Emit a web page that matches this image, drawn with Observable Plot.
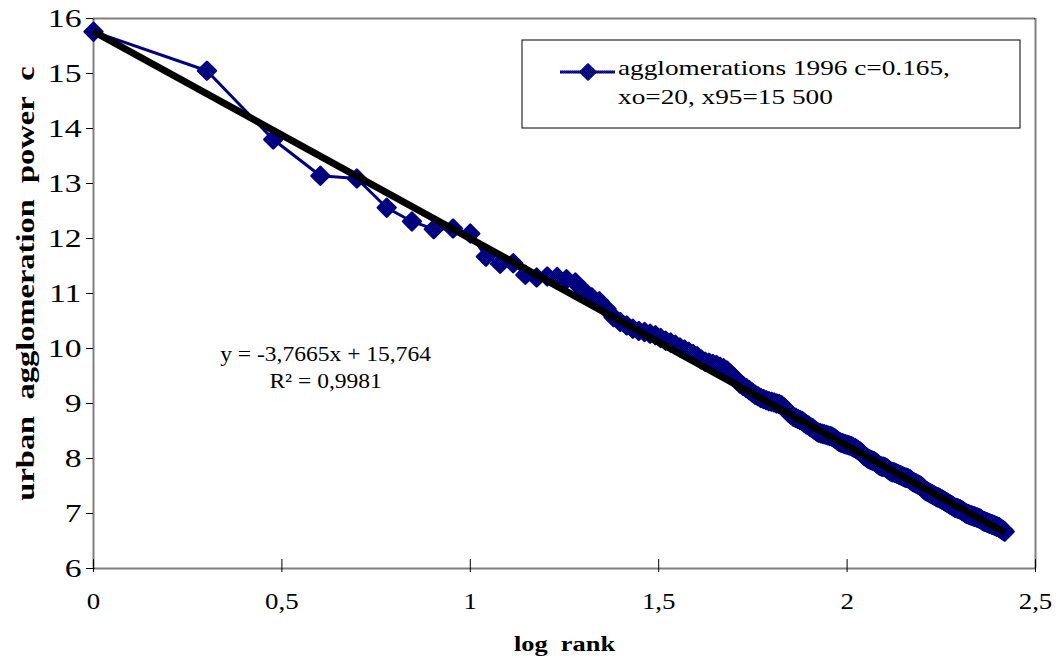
<!DOCTYPE html>
<html><head><meta charset="utf-8">
<script src="https://cdn.jsdelivr.net/npm/d3@7"></script>
<script src="https://cdn.jsdelivr.net/npm/@observablehq/plot@0.6"></script>
<style>html,body{margin:0;padding:0;background:#fff} svg{display:block}</style>
</head><body><div id="chart"></div>
<script>
// urban agglomeration power c, by rank (rank 1 .. 262); x axis = log10(rank)
const cValues = [
15.76, 15.05, 13.80, 13.14, 13.09, 12.56, 12.31, 12.17, 12.18, 12.09,
11.67, 11.54, 11.55, 11.34, 11.29, 11.31, 11.30, 11.26, 11.20, 11.05,
10.93, 10.86, 10.72, 10.57, 10.48, 10.42, 10.36, 10.32, 10.30, 10.27,
10.24, 10.19, 10.14, 10.11, 10.07, 10.02, 9.98, 9.94, 9.90, 9.86,
9.80, 9.76, 9.74, 9.72, 9.70, 9.67, 9.64, 9.60, 9.54, 9.48,
9.42, 9.36, 9.32, 9.28, 9.24, 9.20, 9.16, 9.13, 9.10, 9.08,
9.06, 9.04, 9.03, 9.02, 9.00, 8.99, 8.97, 8.93, 8.88, 8.83,
8.79, 8.76, 8.74, 8.72, 8.70, 8.68, 8.65, 8.62, 8.60, 8.57,
8.55, 8.52, 8.49, 8.47, 8.46, 8.45, 8.44, 8.43, 8.42, 8.41,
8.40, 8.38, 8.36, 8.33, 8.31, 8.29, 8.28, 8.27, 8.26, 8.25,
8.24, 8.23, 8.22, 8.20, 8.19, 8.17, 8.15, 8.13, 8.11, 8.08,
8.05, 8.03, 8.01, 7.99, 7.98, 7.97, 7.96, 7.95, 7.93, 7.91,
7.89, 7.87, 7.86, 7.85, 7.85, 7.84, 7.83, 7.81, 7.79, 7.77,
7.76, 7.75, 7.75, 7.74, 7.73, 7.72, 7.71, 7.70, 7.69, 7.68,
7.67, 7.66, 7.65, 7.65, 7.64, 7.63, 7.62, 7.60, 7.58, 7.57,
7.56, 7.55, 7.54, 7.53, 7.52, 7.51, 7.50, 7.48, 7.46, 7.44,
7.42, 7.41, 7.40, 7.39, 7.38, 7.37, 7.36, 7.35, 7.34, 7.33,
7.32, 7.31, 7.30, 7.29, 7.29, 7.28, 7.27, 7.26, 7.25, 7.24,
7.23, 7.22, 7.21, 7.20, 7.19, 7.18, 7.17, 7.16, 7.15, 7.14,
7.13, 7.12, 7.11, 7.10, 7.10, 7.09, 7.09, 7.08, 7.08, 7.07,
7.06, 7.05, 7.04, 7.03, 7.02, 7.01, 7.00, 6.99, 6.99, 6.98,
6.98, 6.97, 6.97, 6.96, 6.96, 6.95, 6.95, 6.94, 6.94, 6.93,
6.93, 6.92, 6.92, 6.91, 6.91, 6.90, 6.89, 6.88, 6.87, 6.86,
6.86, 6.85, 6.85, 6.84, 6.84, 6.83, 6.83, 6.82, 6.82, 6.81,
6.81, 6.80, 6.80, 6.79, 6.79, 6.78, 6.78, 6.77, 6.77, 6.76,
6.76, 6.75, 6.75, 6.74, 6.73, 6.72, 6.71, 6.70, 6.70, 6.69,
6.68, 6.67
];
// linear trend reported on the chart
const trendSlope = -3.7665;
const trendIntercept = 15.764;
const trendR2 = "0,9981";
const xTicks = [0, 0.5, 1, 1.5, 2, 2.5];
const yTicks = [6, 7, 8, 9, 10, 11, 12, 13, 14, 15, 16];
const xTitle = "log  rank";
const yTitle = "urban  agglomeration  power  c";
const legendLines = ["agglomerations 1996 c=0.165,", "xo=20, x95=15 500"];
const eqAnchor = {x: 0.616, y: 9.69};

const fmt = d => String(d).replace(".", ",");
const data = cValues.map((v, i) => ({x: Math.log10(i + 1), y: v}));
const xLast = data[data.length - 1].x;
const trend = [
  {x: 0, y: trendIntercept},
  {x: xLast, y: trendIntercept + trendSlope * xLast}
];
const eqText = `y = ${fmt(trendSlope)}x + ${fmt(trendIntercept)}\nR² = ${trendR2}`;

const serif = "'Liberation Serif', 'Times New Roman', serif";
const chart = Plot.plot({
  width: 1061, height: 660,
  marginLeft: 93, marginRight: 26, marginTop: 18, marginBottom: 92,
  style: {fontFamily: serif, fontSize: "24px", color: "#000", background: "#fff", overflow: "visible"},
  x: {domain: [0, 2.5]},
  y: {domain: [6, 16]},
  marks: [
    Plot.frame({stroke: "#000", strokeWidth: 2, strokeDasharray: "1,1"}),
    Plot.axisY({ticks: yTicks, tickSize: 7, tickPadding: 5, tickFormat: fmt, label: null, fontSize: 25}),
    Plot.axisX({ticks: xTicks, tickSize: 13, dy: -9, tickFormat: () => "", label: null}),
    Plot.axisX({ticks: xTicks, tickSize: 0, tickPadding: 23, tickFormat: fmt, label: null, fontSize: 24}),
    Plot.line(data, {x: "x", y: "y", stroke: "url(#chk)", strokeWidth: 3}),
    Plot.dot(data, {x: "x", y: "y", symbol: "diamond2", r: 8, fill: "url(#chk)", stroke: "url(#chk)", strokeWidth: 2.5, strokeLinejoin: "round"}),
    Plot.line(trend, {x: "x", y: "y", stroke: "#000", strokeWidth: 7, strokeLinecap: "butt"}),
    Plot.text([eqText], {x: () => eqAnchor.x, y: () => eqAnchor.y, text: d => d, fontSize: 22, lineHeight: 1.25, textAnchor: "middle", lineAnchor: "middle"}),
    Plot.text([yTitle], {frameAnchor: "left", text: d => d, rotate: -90, dx: -68, dy: -10, fontWeight: "bold", fontSize: 25, textAnchor: "middle", lineAnchor: "middle"}),
    Plot.text([xTitle], {frameAnchor: "bottom", text: d => d, dy: 75, fontWeight: "bold", fontSize: 22, textAnchor: "middle", lineAnchor: "middle"})
  ]
});

const svg = d3.select(chart);
const defs = svg.insert("defs", ":first-child");
const pat = defs.append("pattern").attr("id", "chk").attr("patternUnits", "userSpaceOnUse").attr("width", 2).attr("height", 2);
pat.append("rect").attr("width", 2).attr("height", 2).attr("fill", "#0000ff");
pat.append("rect").attr("width", 1).attr("height", 1).attr("fill", "#000");
pat.append("rect").attr("x", 1).attr("y", 1).attr("width", 1).attr("height", 1).attr("fill", "#000");

// horizontal text stretch to match the reference glyph proportions
function stretch(el, s) {
  const tr = el.getAttribute("transform") || "";
  el.setAttribute("transform", tr + ` scale(${s},1)`);
}
chart.querySelectorAll("text").forEach(t => {
  const g = t.closest("g[aria-label]");
  const lab = g ? g.getAttribute("aria-label") : "";
  const txt = t.textContent;
  if (lab.startsWith("y-axis")) stretch(t, 1.35);
  else if (lab.startsWith("x-axis")) stretch(t, 1.12);
  else if (txt.startsWith("urban")) stretch(t, 1.3);
  else if (txt.startsWith("log")) stretch(t, 1.2);
  else stretch(t, 1.07);
});

// legend box
const lg = svg.append("g").attr("font-family", serif).attr("font-size", 22).attr("text-anchor", "start");
lg.append("rect").attr("x", 522).attr("y", 40).attr("width", 498).attr("height", 88).attr("fill", "#fff").attr("stroke", "#000").attr("stroke-width", 1);
lg.append("line").attr("x1", 560).attr("x2", 615).attr("y1", 72).attr("y2", 72).attr("stroke", "url(#chk)").attr("stroke-width", 3);
lg.append("path").attr("d", d3.symbol(d3.symbolDiamond2, Math.PI * 7 * 7)()).attr("transform", "translate(588,72)").attr("fill", "url(#chk)").attr("stroke", "url(#chk)").attr("stroke-width", 2).attr("stroke-linejoin", "round");
legendLines.forEach((t, i) => {
  lg.append("text").attr("transform", `translate(618,${75 + i * 29}) scale(1.24,1)`).text(t);
});

document.getElementById("chart").appendChild(chart);
</script>
</body></html>
